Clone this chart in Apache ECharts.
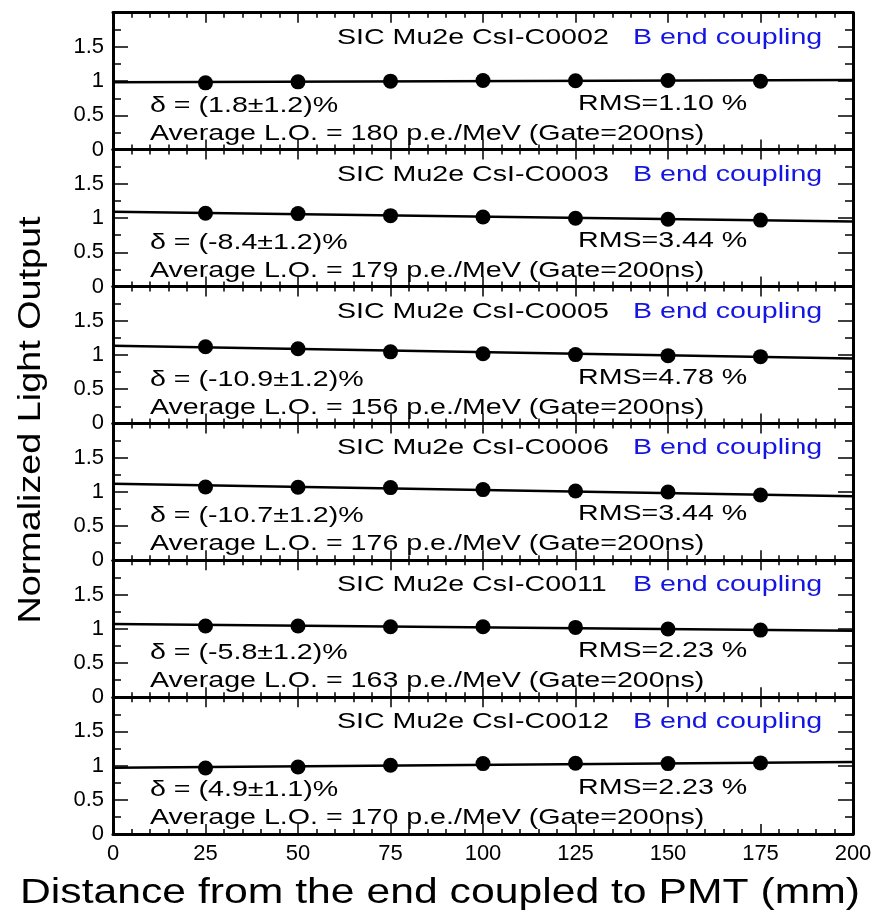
<!DOCTYPE html>
<html>
<head>
<meta charset="utf-8">
<script src="https://cdn.jsdelivr.net/npm/echarts@6/dist/echarts.min.js"></script>
<style>
html,body{margin:0;padding:0;background:#fff;}
#chart{width:877px;height:917px;}
</style>
</head>
<body>
<div id="chart"></div>
<script>
// ---- data ----
const xTicks = [0, 25, 50, 75, 100, 125, 150, 175, 200];
const positions = [25, 50, 75, 100, 125, 150, 175];
const crystals = ['C0002', 'C0003', 'C0005', 'C0006', 'C0011', 'C0012'];
const lo_C0002 = [0.975, 0.99, 1.00, 1.01, 1.005, 1.01, 1.00];
const lo_C0003 = [1.07, 1.065, 1.035, 1.016, 0.998, 0.982, 0.970];
const lo_C0005 = [1.12, 1.09, 1.045, 1.018, 1.005, 0.99, 0.975];
const lo_C0006 = [1.07, 1.067, 1.062, 1.033, 1.013, 0.998, 0.955];
const lo_C0011 = [1.04, 1.04, 1.03, 1.03, 1.02, 0.997, 0.98];
const lo_C0012 = [0.965, 0.98, 1.005, 1.03, 1.035, 1.03, 1.04];
const lightOutput = [lo_C0002, lo_C0003, lo_C0005, lo_C0006, lo_C0011, lo_C0012];
const fitAt0 = [0.985, 1.092, 1.133, 1.12, 1.07, 0.97];
const fitAt200 = [1.015, 0.948, 0.947, 0.937, 0.97, 1.053];
const deltas = ['(1.8±1.2)%', '(-8.4±1.2)%', '(-10.9±1.2)%', '(-10.7±1.2)%', '(-5.8±1.2)%', '(4.9±1.1)%'];
const rmsValues = ['1.10', '3.44', '4.78', '3.44', '2.23', '2.23'];
const avgLO = [180, 179, 156, 176, 163, 170];

// ---- layout ----
const FONT = '"Liberation Sans", Arial, Helvetica, sans-serif';
const gridLeft = 113, gridRight = 24, top0 = 12.7, panelH = 136.9;
const n = crystals.length;

const grids = [], xAxes = [], yAxes = [], series = [], graphics = [];
const axisLine = {show: true, onZero: false, lineStyle: {color: '#000', width: 3}};

for (let i = 0; i < n; i++) {
  const top = top0 + i * panelH;
  grids.push({left: gridLeft, right: gridRight, top: top, height: panelH, show: false});
  const xBase = {
    gridIndex: i, type: 'value', min: 0, max: 200, interval: 25,
    axisLine: axisLine,
    axisTick: {show: true, inside: true, length: 10, lineStyle: {color: '#000', width: 1.5}},
    minorTick: {show: true, splitNumber: 5, length: 5, lineStyle: {color: '#000', width: 1.5}},
    splitLine: {show: false}, minorSplitLine: {show: false}
  };
  xAxes.push(Object.assign({}, xBase, {
    position: 'bottom',
    axisLabel: {show: i === n - 1, fontSize: 22, color: '#000', fontFamily: FONT, margin: 9}
  }));
  xAxes.push(Object.assign({}, xBase, {position: 'top', axisLabel: {show: false}}));
  const yBase = {
    gridIndex: i, type: 'value', min: 0, max: 2, interval: 0.5,
    axisLine: axisLine,
    axisTick: {show: true, inside: true, length: 15, lineStyle: {color: '#000', width: 1.5}},
    minorTick: {show: true, splitNumber: 2, length: 8, lineStyle: {color: '#000', width: 1.5}},
    splitLine: {show: false}, minorSplitLine: {show: false}
  };
  yAxes.push(Object.assign({}, yBase, {
    position: 'left',
    axisLabel: {show: true, fontSize: 22, color: '#000', fontFamily: FONT, margin: 9, showMaxLabel: false}
  }));
  yAxes.push(Object.assign({}, yBase, {position: 'right', axisLabel: {show: false}}));

  series.push({
    type: 'line', xAxisIndex: 2 * i, yAxisIndex: 2 * i,
    data: [[0, fitAt0[i]], [200, fitAt200[i]]],
    showSymbol: false, symbol: 'none', silent: true, z: 2,
    lineStyle: {color: '#000', width: 2.5}
  });
  series.push({
    type: 'scatter', xAxisIndex: 2 * i, yAxisIndex: 2 * i,
    data: positions.map((x, j) => [x, lightOutput[i][j]]),
    symbol: 'circle', symbolSize: 15, z: 3,
    itemStyle: {color: '#000', opacity: 1}
  });

  const sx = 1.3;
  const txt = (t, x, y, color) => ({
    type: 'text', x: x, y: y, scaleX: sx, z: 50,
    style: {text: t, font: '22px ' + FONT, fill: color || '#000',
      textAlign: 'left', verticalAlign: 'middle', textVerticalAlign: 'middle'}
  });
  graphics.push(txt('SIC Mu2e CsI-' + crystals[i], 337, top + 25));
  graphics.push(txt('B end coupling', 633, top + 25, '#1515e0'));
  graphics.push(txt('δ = ' + deltas[i], 150, top + 93));
  graphics.push(txt('RMS=' + rmsValues[i] + ' %', 578, top + 91));
  graphics.push(txt('Average L.O. = ' + avgLO[i] + ' p.e./MeV (Gate=200ns)', 150, top + 121));
}

graphics.push({
  type: 'text', x: 440, y: 893, scaleX: 1.22, z: 50,
  style: {text: 'Distance from the end coupled to PMT (mm)', font: '35px ' + FONT, fill: '#000',
    textAlign: 'center', verticalAlign: 'middle', textVerticalAlign: 'middle'}
});
graphics.push({
  type: 'text', x: 31, y: 420, rotation: Math.PI / 2, scaleX: 1.18, z: 50,
  style: {text: 'Normalized Light Output', font: '32px ' + FONT, fill: '#000',
    textAlign: 'center', verticalAlign: 'middle', textVerticalAlign: 'middle'}
});

const chart = echarts.init(document.getElementById('chart'), null, {renderer: 'canvas'});
chart.setOption({
  animation: false,
  backgroundColor: '#fff',
  grid: grids,
  xAxis: xAxes,
  yAxis: yAxes,
  series: series,
  graphic: graphics
});
</script>
</body>
</html>
